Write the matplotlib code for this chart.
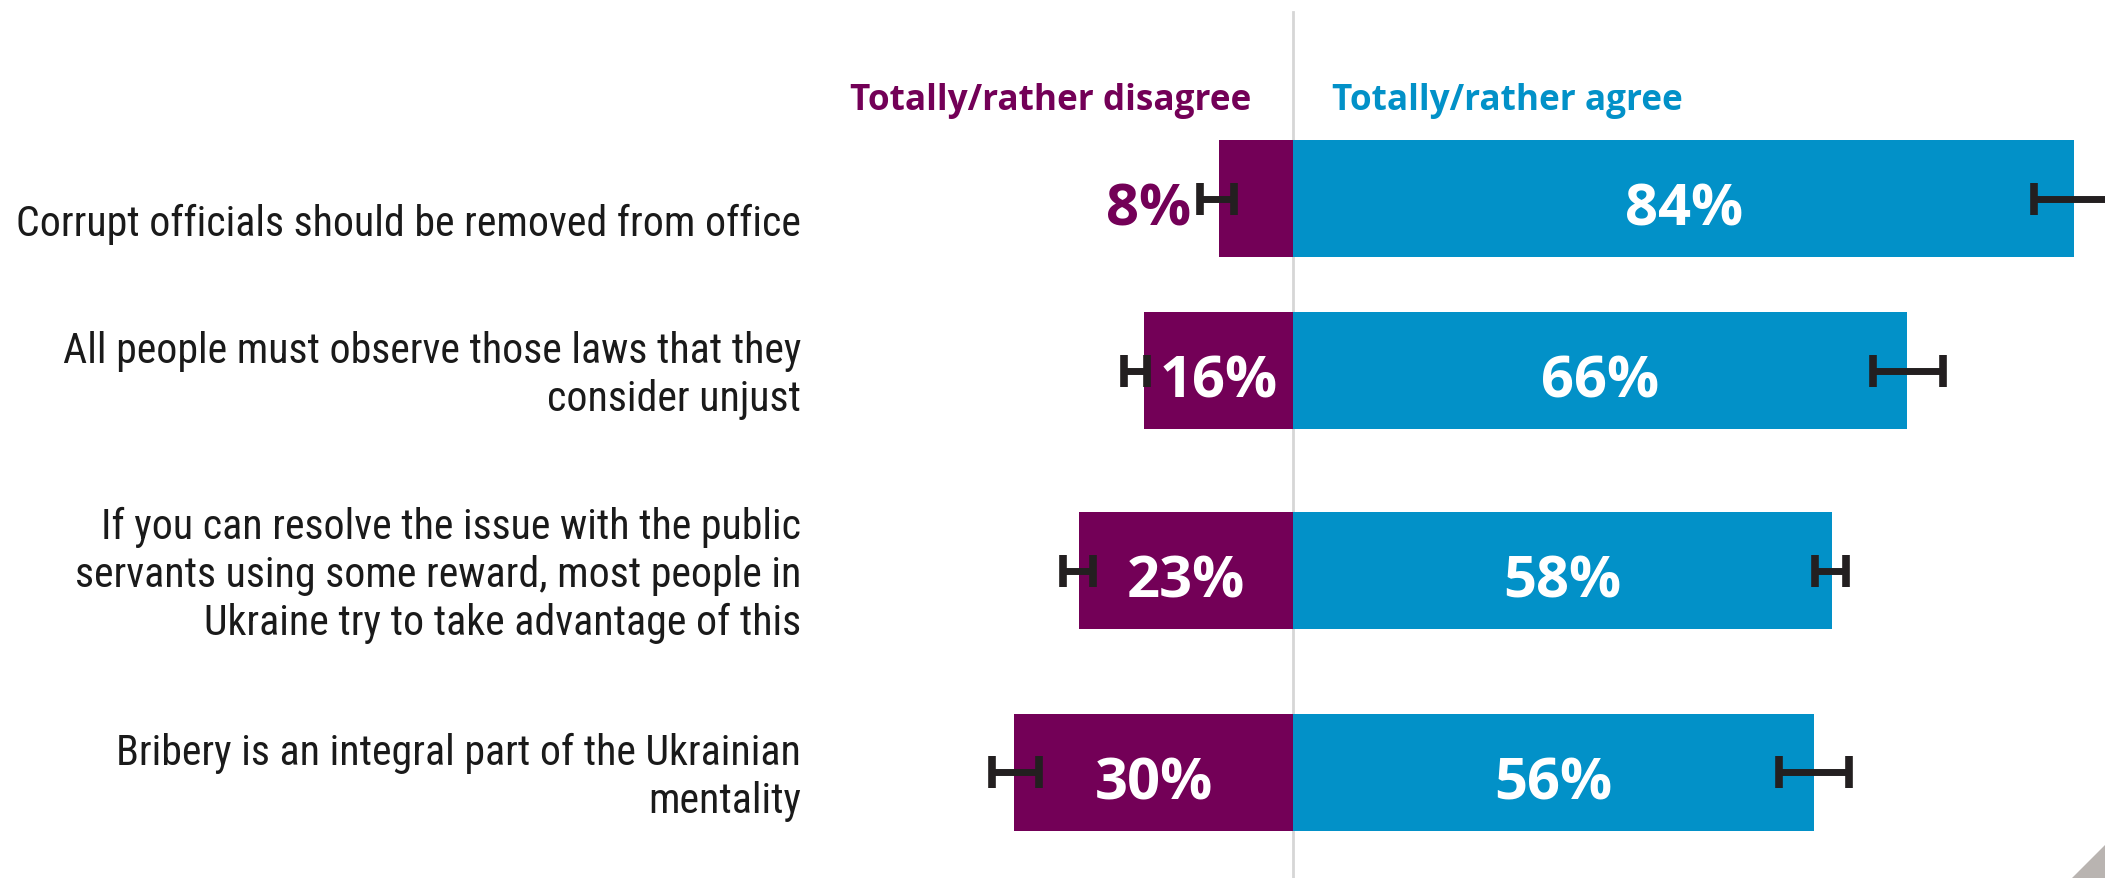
import matplotlib
matplotlib.use("Agg")
import matplotlib.pyplot as plt
from matplotlib import font_manager as fm
from matplotlib.patches import Polygon

# data
statements = [
    ["Corrupt officials should be removed from office"],
    ["All people must observe those laws that they", "consider unjust"],
    ["If you can resolve the issue with the public",
     "servants using some reward, most people in",
     "Ukraine try to take advantage of this"],
    ["Bribery is an integral part of the Ukrainian", "mentality"],
]
disagree = [8, 16, 23, 30]
agree = [84, 66, 58, 56]
# error bar ends (percent)
disagree_lo = [6.3, 15.7, 21.5, 27.3]
disagree_hi = [10.0, 18.2, 24.7, 32.4]
agree_lo = [79.7, 62.4, 56.1, 52.3]
agree_hi = [87.8, 69.9, 59.5, 59.8]
headers = ["Totally/rather disagree", "Totally/rather agree"]

PURPLE = "#730057"
BLUE = "#0291c8"
ERR = "#231f20"
TEXT = "#1a1a1a"


def pick(*names):
    for n in names:
        try:
            fm.findfont(fm.FontProperties(family=n), fallback_to_default=False)
            return n
        except ValueError:
            pass
    return "DejaVu Sans"


label_font = pick("Roboto Condensed", "Liberation Sans Narrow", "DejaVu Sans Condensed", "Roboto")
bold_font = pick("Open Sans", "Noto Sans", "DejaVu Sans")

W, H = 2105, 879
fig = plt.figure(figsize=(W / 100, H / 100), dpi=100)
ax = fig.add_axes([0, 0, 1, 1])
ax.axis("off")

# layout in pixels
x0 = 1293          # zero line
px_pct = 9.30      # pixels per percent
row_y = [199.5, 371.5, 571.5, 773.5]
bar_h = 117
label_shift = [21, 0, 0, 0]
line_gap = 48

ax.set_xlim(-x0 / px_pct, (W - x0) / px_pct)
ax.set_ylim(H, 0)

renderer = fig.canvas.get_renderer()


def fit_size(text, family, weight, target_px, start=20):
    t = fig.text(0, 0, text, fontsize=start, family=family, weight=weight)
    w = t.get_window_extent(renderer=renderer).width
    t.remove()
    return start * target_px / w


lab_fs = fit_size(statements[0][0], label_font, "normal", 785)
pct_fs = fit_size("84%", bold_font, "bold", 118)
head_fs = fit_size(headers[0], bold_font, "bold", 401)

ax.axvline(0, 0, 1 - 13 / H, color="#d6d6d6", lw=2, zorder=0)

ax.barh(row_y, [-d for d in disagree], height=bar_h, color=PURPLE, zorder=2)
ax.barh(row_y, agree, height=bar_h, color=BLUE, zorder=2)

err_kw = dict(fmt="none", ecolor=ERR, elinewidth=5, capsize=11.5, capthick=5.5, zorder=3)
ax.errorbar([-(l + h) / 2 for l, h in zip(disagree_lo, disagree_hi)], row_y,
            xerr=[(h - l) / 2 for l, h in zip(disagree_lo, disagree_hi)], **err_kw)
ax.errorbar([(l + h) / 2 for l, h in zip(agree_lo, agree_hi)], row_y,
            xerr=[(h - l) / 2 for l, h in zip(agree_lo, agree_hi)], **err_kw)

# value labels
cap_px = 0.72 * pct_fs * 100 / 72
for i, y in enumerate(row_y):
    yb = y + 5 + cap_px / 2
    d = disagree[i]
    if d < 10:
        ax.text(-disagree_hi[i] - 1.0, yb, f"{d}%", ha="right", va="baseline",
                color=PURPLE, fontsize=pct_fs, family=bold_font, weight="bold", zorder=4)
    else:
        ax.text(-d / 2, yb, f"{d}%", ha="center", va="baseline",
                color="white", fontsize=pct_fs, family=bold_font, weight="bold", zorder=4)
    ax.text(agree[i] / 2, yb, f"{agree[i]}%", ha="center", va="baseline",
            color="white", fontsize=pct_fs, family=bold_font, weight="bold", zorder=4)

# statement labels, right aligned
lab_x = (801 - x0) / px_pct
for i, lines in enumerate(statements):
    first = row_y[i] - (len(lines) - 1) * line_gap / 2 + 16 + label_shift[i]
    for k, line in enumerate(lines):
        ax.text(lab_x, first + k * line_gap, line, ha="right", va="baseline",
                color=TEXT, fontsize=lab_fs, family=label_font)

# column headers
ax.text((1251 - x0) / px_pct, 110, headers[0], ha="right", va="baseline",
        color=PURPLE, fontsize=head_fs, family=bold_font, weight="bold")
ax.text((1332 - x0) / px_pct, 110, headers[1], ha="left", va="baseline",
        color=BLUE, fontsize=head_fs, family=bold_font, weight="bold")

# page corner
fig.patches.append(Polygon([(2072 / W, 0), (1, 0), (1, 33 / H)], closed=True,
                           transform=fig.transFigure, color="#b9b4b1", zorder=5))

fig.savefig("out.png", dpi=100)
